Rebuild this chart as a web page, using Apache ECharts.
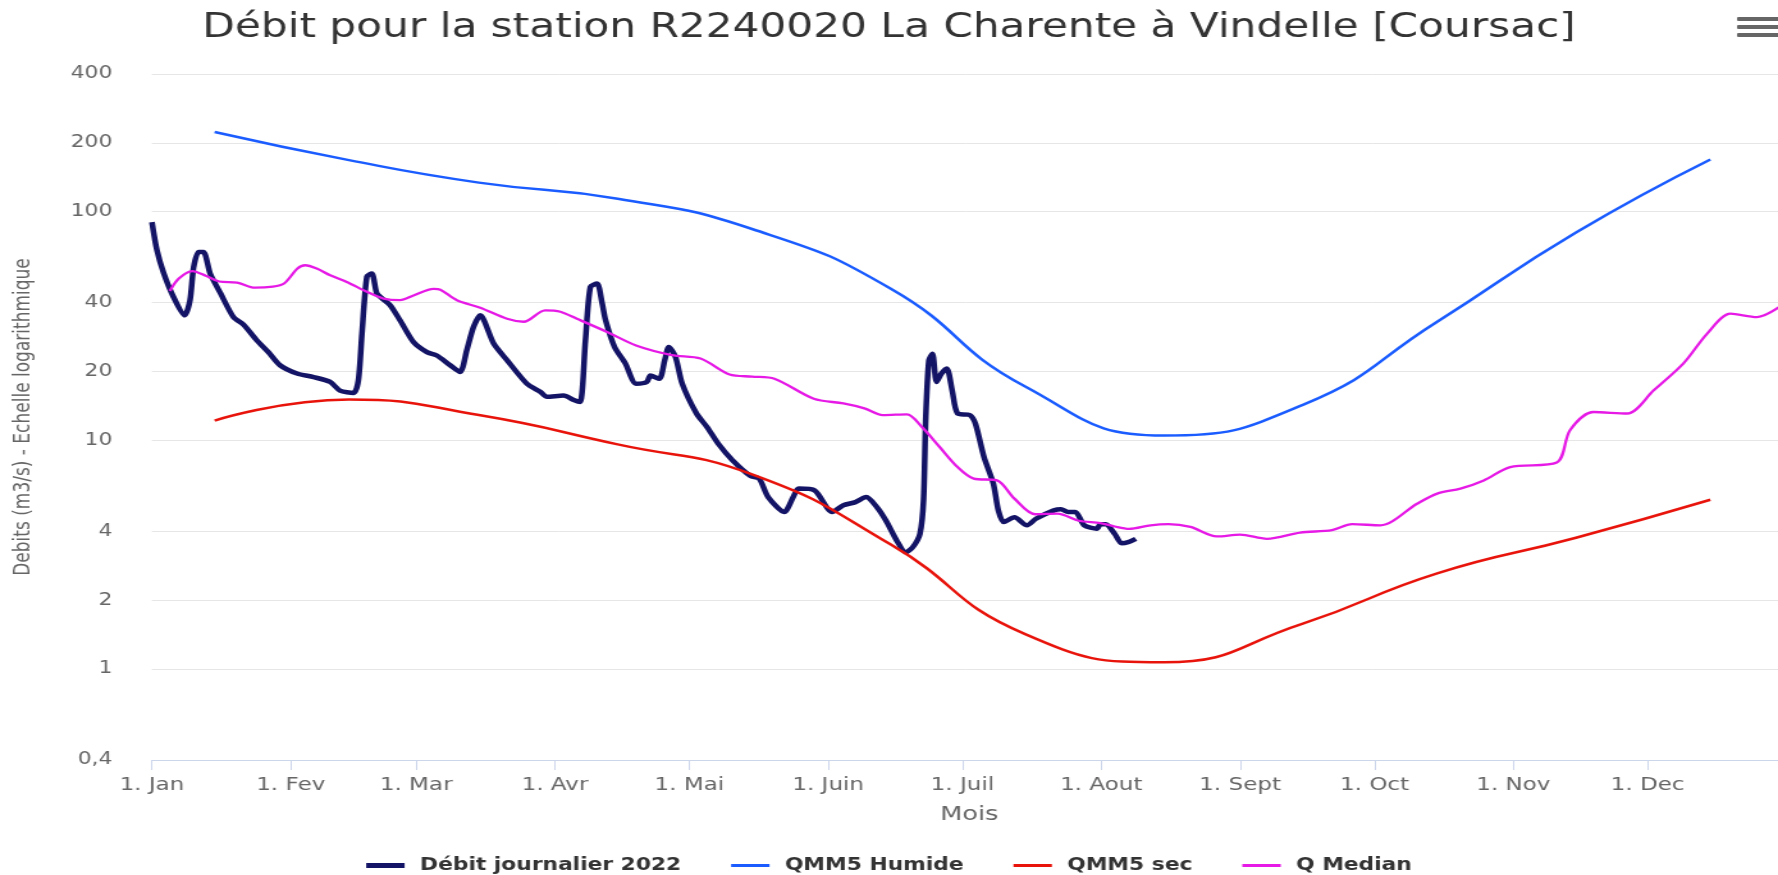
<!DOCTYPE html>
<html>
<head>
<meta charset="utf-8">
<script src="https://cdn.jsdelivr.net/npm/echarts@6.0.0/dist/echarts.min.js"></script>
<style>
html, body { margin: 0; padding: 0; overflow: hidden; background: #fff; }
/* the reference is stretched horizontally, so the chart is drawn narrower and widened */
#chart { width: 1389px; height: 875px; transform: scaleX(1.28006); transform-origin: 0 0; }
</style>
</head>
<body>
<div id="chart"></div>
<script>
var monthStarts = [0, 31, 59, 90, 120, 151, 181, 212, 243, 273, 304, 334];
var monthLabels = ['1. Jan', '1. Fev', '1. Mar', '1. Avr', '1. Mai', '1. Juin', '1. Juil', '1. Aout', '1. Sept', '1. Oct', '1. Nov', '1. Dec'];
var yTicks = [0.4, 1, 2, 4, 10, 20, 40, 100, 200, 400];

// debit journalier 2022 (jour de l'annee, m3/s)
var debitDays = [0, 1.1, 2.6, 4.8, 7.3, 8.5, 9.3, 10.4, 11.5, 13, 15.3, 18.2, 20.5, 23.4, 26, 28.6, 32.4, 36.1, 39.8, 42,
  45, 46.1, 46.9, 48, 49.1, 50.2, 51.4, 53.2, 55.4, 58.4, 61.4, 63.6, 66.6, 68.8, 70.3, 71.8, 73.3, 76.3, 79.3, 83.7,
  86.7, 88.2, 91.9, 94.2, 95.6, 96.8, 97.9, 99.4, 100.5, 101.3, 103.3, 105.7, 108.1, 110.5, 111.3, 113.3, 114.5, 115.4, 116.9, 118.4,
  121.6, 124, 126.4, 129.6, 133.6, 135.6, 137.6, 141.2, 143.2, 144.4, 148, 151.9, 154.4, 157.1, 159.5, 161.9, 163.9, 166.3, 168.3, 169.9,
  171.5, 172.3, 172.8, 173.5, 174.3, 175.2, 176.3, 177.5, 178.7, 179.9, 182.6, 183.9, 185.8, 187.9, 189, 190.2, 192.6, 195.4, 197.4, 201.4,
  203, 204.6, 206.2, 208.2, 211, 211.8, 213, 215, 216.5, 218.2, 219.7];
var debitValues = [90, 68, 54, 42.4, 35.2, 41, 57, 66.7, 66.7, 53.6, 44, 34.6, 32, 27.4, 24.3, 21.3, 19.6, 18.9, 18, 16.5,
  16.1, 18.3, 29.3, 52, 53.6, 44, 41.7, 39, 33.5, 26.9, 24.3, 23.5, 21.3, 19.9, 24.8, 31.3, 35.2, 26.5, 22.4, 17.7,
  16.3, 15.5, 15.7, 15, 14.7, 27.4, 46.9, 48.5, 40, 33.5, 25.6, 21.7, 17.7, 18, 19.2, 18.6, 22.4, 25.6, 23.2, 17.7,
  13.1, 11.4, 9.7, 8.2, 7.0, 6.8, 5.65, 4.86, 5.65, 6.15, 6.04, 4.86, 5.2, 5.37, 5.65, 5.1, 4.46, 3.65, 3.24, 3.41,
  3.9, 5.46, 12.6, 22.4, 23.9, 18, 19.6, 20.6, 16.5, 13.1, 12.9, 11.8, 8.45, 6.46, 4.94, 4.39, 4.61, 4.25, 4.54, 4.94,
  5.0, 4.86, 4.86, 4.25, 4.11, 4.3, 4.3, 3.9, 3.55, 3.6, 3.71];

// QMM5 : une valeur par mois, placee au milieu du mois
var qmmDays = [14, 44, 73, 104, 134, 165, 195, 226, 257, 287, 318, 348];
var qmm5Humide = [223, 168, 134, 114, 84, 46, 17.2, 10.5, 14.3, 33, 81, 169];
var qmm5Sec = [12.2, 15.1, 12.9, 9.6, 7.1, 3.5, 1.42, 1.07, 1.58, 2.62, 3.75, 5.5];

// Q median
var medianDays = [4, 6, 9, 12, 15, 19, 23, 27, 29.5, 32.5, 34.2, 36.8, 39.8, 43.5, 48, 51.7, 55.4, 58.4, 62.9, 64.4,
  68.1, 73.3, 79.3, 83, 87.8, 91.2, 94.9, 101.6, 108.1, 116.1, 122.5, 129, 134, 139, 147.8, 154.4, 159.1, 163.2, 168.6, 172,
  175.9, 179.9, 183.5, 188.7, 192.6, 197.2, 202.2, 207, 211.8, 215, 218.2, 223, 227, 231.9, 237.8, 243, 249, 256.4, 263.5, 268,
  274.3, 282.5, 287, 292.2, 297.4, 303.3, 313.7, 316.7, 321.9, 329.4, 335.3, 342, 347.3, 352.5, 358.4, 364];
var medianValues = [45, 51, 55, 52.5, 49.5, 49, 46.5, 47, 48.5, 56.4, 58.3, 56.4, 52.7, 49.3, 44.6, 41.7, 41, 43, 46, 45.6,
  41, 38, 34, 33, 37, 36.5, 34, 29.8, 26, 23.6, 22.8, 19.4, 19, 18.6, 15.2, 14.5, 13.8, 12.9, 13, 11.4,
  9.35, 7.64, 6.8, 6.68, 5.56, 4.75, 4.78, 4.45, 4.35, 4.2, 4.1, 4.25, 4.3, 4.18, 3.8, 3.87, 3.71, 3.95, 4.05, 4.3,
  4.25, 5.28, 5.85, 6.15, 6.68, 7.64, 8.0, 11.1, 13.3, 13.1, 16.5, 21.7, 29.3, 35.8, 34.6, 39];

function pairs(xs, ys) {
  var out = [];
  for (var i = 0; i < xs.length; i++) out.push([xs[i], ys[i]]);
  return out;
}

var font = 'DejaVu Sans';
var logTicks = yTicks.map(function (v) { return Math.log10(v); });

var myChart = echarts.init(document.getElementById('chart'));
myChart.setOption({
  animation: false,
  backgroundColor: '#fff',
  title: {
    text: 'Débit pour la station R2240020 La Charente à Vindelle [Coursac]',
    left: 'center',
    top: 7,
    textStyle: { fontFamily: font, fontSize: 33, fontWeight: 'normal', color: '#333' }
  },
  legend: {
    top: 852,
    left: 'center',
    itemWidth: 30,
    itemHeight: 14,
    itemGap: 39,
    textStyle: { fontFamily: font, fontSize: 17, fontWeight: 'bold', color: '#333', padding: [0, 0, 0, 7] },
    data: [
      { name: 'Débit journalier 2022', icon: 'path://M0,0H30V5H0Z' },
      { name: 'QMM5 Humide', icon: 'path://M0,0H30V3H0Z' },
      { name: 'QMM5 sec', icon: 'path://M0,0H30V3H0Z' },
      { name: 'Q Median', icon: 'path://M0,0H30V3H0Z' }
    ]
  },
  grid: { left: 118.7, top: 74, width: 1276.9, height: 686, containLabel: false, outerBoundsMode: 'none' },
  xAxis: {
    type: 'value',
    min: 0,
    max: 365,
    name: 'Mois',
    nameLocation: 'middle',
    nameGap: 45,
    nameTextStyle: { fontFamily: font, fontSize: 20, color: '#666' },
    axisLine: { show: true, onZero: false, lineStyle: { color: '#ccd6eb', width: 1 } },
    axisTick: { show: true, length: 10, lineStyle: { color: '#ccd6eb' }, customValues: monthStarts },
    axisLabel: {
      customValues: monthStarts,
      margin: 16,
      fontFamily: font,
      fontSize: 18,
      color: '#666',
      formatter: function (v) {
        var i = monthStarts.indexOf(v);
        return i < 0 ? '' : monthLabels[i];
      }
    },
    splitLine: { show: false }
  },
  yAxis: [
    { type: 'log', logBase: 10, min: 0.4, max: 400, show: false },
    {
      type: 'value',
      min: Math.log10(0.4),
      max: Math.log10(400),
      position: 'left',
      name: 'Debits (m3/s) - Echelle logarithmique',
      nameLocation: 'middle',
      nameGap: 92,
      nameTextStyle: { fontFamily: font, fontSize: 17, color: '#666' },
      axisLine: { show: false },
      axisTick: { show: false, customValues: logTicks },
      axisLabel: {
        customValues: logTicks,
        margin: 31,
        fontFamily: font,
        fontSize: 17,
        color: '#666',
        formatter: function (v) {
          var r = Math.round(Math.pow(10, v) * 10) / 10;
          return String(r).replace('.', ',');
        }
      },
      splitLine: { show: true, lineStyle: { color: '#e6e6e6', width: 1 } }
    }
  ],
  graphic: [
    { type: 'rect', left: 1357, top: 17, shape: { width: 40, height: 4, r: 1 }, style: { fill: '#666' } },
    { type: 'rect', left: 1357, top: 25, shape: { width: 40, height: 4, r: 1 }, style: { fill: '#666' } },
    { type: 'rect', left: 1357, top: 33, shape: { width: 40, height: 4, r: 1 }, style: { fill: '#666' } }
  ],
  series: [
    {
      name: 'Débit journalier 2022', type: 'line', yAxisIndex: 0,
      data: pairs(debitDays, debitValues),
      symbol: 'none', showSymbol: false, smooth: 0.25,
      lineStyle: { color: '#141466', width: 4.5 }, itemStyle: { color: '#141466' }
    },
    {
      name: 'QMM5 Humide', type: 'line', yAxisIndex: 0,
      data: pairs(qmmDays, qmm5Humide),
      symbol: 'none', showSymbol: false, smooth: 0.5,
      lineStyle: { color: '#1a5cff', width: 2.5 }, itemStyle: { color: '#1a5cff' }
    },
    {
      name: 'QMM5 sec', type: 'line', yAxisIndex: 0,
      data: pairs(qmmDays, qmm5Sec),
      symbol: 'none', showSymbol: false, smooth: 0.5,
      lineStyle: { color: '#e8140c', width: 2.5 }, itemStyle: { color: '#e8140c' }
    },
    {
      name: 'Q Median', type: 'line', yAxisIndex: 0,
      data: pairs(medianDays, medianValues),
      symbol: 'none', showSymbol: false, smooth: 0.3,
      lineStyle: { color: '#e619e6', width: 2.3 }, itemStyle: { color: '#e619e6' }
    }
  ]
});
</script>
</body>
</html>
